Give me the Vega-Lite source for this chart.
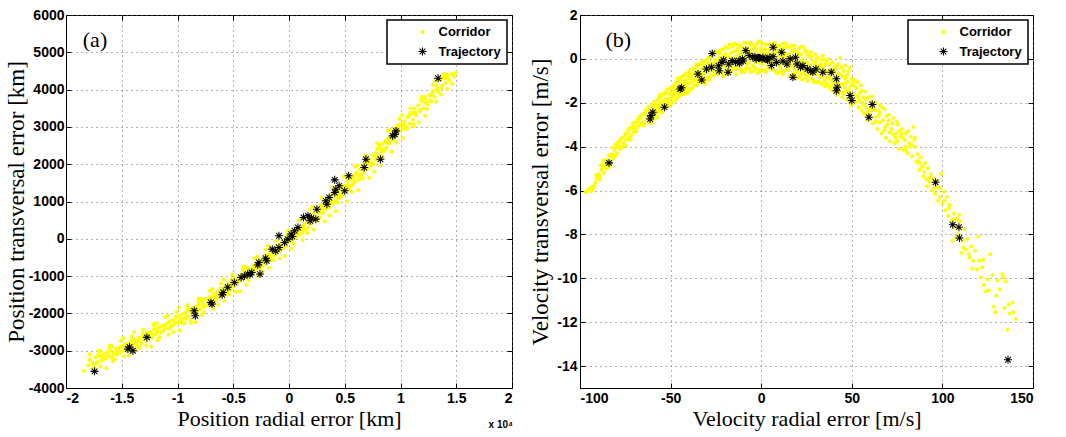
{
"$schema": "https://vega.github.io/schema/vega-lite/v6.json",
"usermeta": {"embedOptions": {"actions": false}},
"background": "white",
"padding": {"left": 4, "top": 7, "right": 2, "bottom": 0},
"bounds": "flush",
"spacing": 68,
"datasets": {
"ac": [
{"x":-1.840,"y":-3540},{"x":-1.800,"y":-3400},{"x":-1.785,"y":-3230},{"x":-1.765,"y":-3330},{"x":-1.750,"y":-3420},
{"x":-1.735,"y":-3180},{"x":-1.720,"y":-3300},{"x":-1.705,"y":-3120},{"x":-1.690,"y":-3010},{"x":-1.680,"y":-3260},{"x":-1.660,"y":-3090},
{"x":-1.645,"y":-3210},{"x":-1.630,"y":-3040},{"x":-1.615,"y":-3130},{"x":-1.600,"y":-2990},{"x":-1.590,"y":-3180},{"x":-1.570,"y":-3060},{"x":-1.555,"y":-2950},
{"x":-1.545,"y":-3110},{"x":-1.530,"y":-2980},{"x":-1.515,"y":-3050},{"x":-1.500,"y":-2880},{"x":-1.490,"y":-3000},{"x":-1.475,"y":-2920},{"x":-1.460,"y":-2810},{"x":-1.450,"y":-2990},
{"x":-1.440,"y":-2870},{"x":-1.425,"y":-2780},{"x":-1.410,"y":-2940},{"x":-1.395,"y":-2830},{"x":-1.380,"y":-2700},{"x":-1.365,"y":-2860},{"x":-1.350,"y":-2740},
{"x":-1.340,"y":-2650},{"x":-1.325,"y":-2800},{"x":-1.310,"y":-2700},{"x":-1.295,"y":-2590},{"x":-1.280,"y":-2730},{"x":-1.265,"y":-2540},{"x":-1.250,"y":-2660},
{"x":-1.240,"y":-2500},{"x":-1.225,"y":-2640},{"x":-1.210,"y":-2430},{"x":-1.195,"y":-2560},{"x":-1.180,"y":-2480},{"x":-1.165,"y":-2370},{"x":-1.150,"y":-2520},
{"x":-1.140,"y":-2340},{"x":-1.125,"y":-2460},{"x":-1.110,"y":-2390},{"x":-1.095,"y":-2270},{"x":-1.080,"y":-2410},{"x":-1.065,"y":-2200},{"x":-1.050,"y":-2330},
{"x":-1.040,"y":-2180},{"x":-1.025,"y":-2300},{"x":-1.010,"y":-2110},{"x":-0.995,"y":-2240},{"x":-0.980,"y":-2060},{"x":-0.965,"y":-2190},{"x":-0.950,"y":-2000},
{"x":-0.940,"y":-2130},{"x":-0.925,"y":-1980},{"x":-0.910,"y":-2080},{"x":-0.895,"y":-1930},{"x":-0.880,"y":-2180},{"x":-0.865,"y":-1870},{"x":-0.850,"y":-2020},
{"x":-0.840,"y":-1820},{"x":-0.825,"y":-1950},{"x":-0.810,"y":-1760},{"x":-0.795,"y":-1880},{"x":-0.780,"y":-1690},{"x":-0.765,"y":-1830},{"x":-0.750,"y":-1620},
{"x":-0.740,"y":-1760},{"x":-0.725,"y":-1650},{"x":-0.710,"y":-1560},{"x":-0.695,"y":-1720},{"x":-0.680,"y":-1480},{"x":-0.665,"y":-1610},{"x":-0.650,"y":-1430},
{"x":-0.640,"y":-1560},{"x":-0.625,"y":-1400},{"x":-0.610,"y":-1520},{"x":-0.595,"y":-1340},{"x":-0.580,"y":-1470},{"x":-0.565,"y":-1250},{"x":-0.550,"y":-1390},
{"x":-0.540,"y":-1220},{"x":-0.525,"y":-1360},{"x":-0.510,"y":-1150},{"x":-0.495,"y":-1280},{"x":-0.480,"y":-1060},{"x":-0.465,"y":-1200},{"x":-0.450,"y":-1000},
{"x":-0.440,"y":-1130},{"x":-0.425,"y":-960},{"x":-0.410,"y":-1070},{"x":-0.395,"y":-880},{"x":-0.380,"y":-1010},{"x":-0.365,"y":-800},{"x":-0.350,"y":-950},
{"x":-0.340,"y":-840},{"x":-0.325,"y":-730},{"x":-0.310,"y":-880},{"x":-0.295,"y":-660},{"x":-0.280,"y":-790},{"x":-0.265,"y":-590},{"x":-0.250,"y":-720},
{"x":-0.240,"y":-610},{"x":-0.225,"y":-700},{"x":-0.210,"y":-500},{"x":-0.195,"y":-620},{"x":-0.180,"y":-420},{"x":-0.165,"y":-550},{"x":-0.150,"y":-340},
{"x":-0.140,"y":-450},{"x":-0.125,"y":-290},{"x":-0.110,"y":-380},{"x":-0.095,"y":-200},{"x":-0.080,"y":-320},{"x":-0.065,"y":-120},{"x":-0.050,"y":-250},
{"x":-0.040,"y":-60},{"x":-0.025,"y":-190},{"x":-0.010,"y":20},{"x":0.005,"y":-80},{"x":0.020,"y":130},{"x":0.035,"y":-10},{"x":0.050,"y":170},
{"x":0.060,"y":40},{"x":0.075,"y":200},{"x":0.090,"y":110},{"x":0.105,"y":300},{"x":0.120,"y":160},{"x":0.135,"y":380},{"x":0.150,"y":250},
{"x":0.160,"y":450},{"x":0.175,"y":300},{"x":0.190,"y":560},{"x":0.205,"y":420},{"x":0.220,"y":680},{"x":0.235,"y":500},{"x":0.250,"y":560},
{"x":0.260,"y":720},{"x":0.275,"y":580},{"x":0.290,"y":860},{"x":0.305,"y":700},{"x":0.320,"y":960},{"x":0.335,"y":800},{"x":0.350,"y":1020},
{"x":0.360,"y":840},{"x":0.375,"y":1080},{"x":0.390,"y":940},{"x":0.405,"y":1200},{"x":0.420,"y":1010},{"x":0.435,"y":1280},{"x":0.450,"y":1090},
{"x":0.460,"y":1330},{"x":0.475,"y":1150},{"x":0.490,"y":1430},{"x":0.505,"y":1260},{"x":0.520,"y":1550},{"x":0.535,"y":1370},{"x":0.550,"y":1600},
{"x":0.560,"y":1420},{"x":0.575,"y":1650},{"x":0.590,"y":1520},{"x":0.605,"y":1780},{"x":0.620,"y":1590},{"x":0.635,"y":1860},{"x":0.650,"y":1700},
{"x":0.660,"y":1950},{"x":0.675,"y":1780},{"x":0.690,"y":2050},{"x":0.705,"y":1870},{"x":0.720,"y":2140},{"x":0.735,"y":1960},{"x":0.750,"y":2230},
{"x":0.760,"y":2010},{"x":0.775,"y":2300},{"x":0.790,"y":2150},{"x":0.805,"y":2420},{"x":0.820,"y":2250},{"x":0.835,"y":2550},{"x":0.850,"y":2350},
{"x":0.860,"y":2620},{"x":0.875,"y":2440},{"x":0.890,"y":2700},{"x":0.905,"y":2560},{"x":0.920,"y":2840},{"x":0.935,"y":2660},{"x":0.950,"y":2950},
{"x":0.960,"y":2750},{"x":0.975,"y":3040},{"x":0.990,"y":2880},{"x":1.005,"y":3080},{"x":1.020,"y":2960},{"x":1.035,"y":3150},{"x":1.050,"y":3010},
{"x":1.065,"y":3260},{"x":1.080,"y":3090},{"x":1.095,"y":3380},{"x":1.110,"y":3200},{"x":1.125,"y":3490},{"x":1.140,"y":3310},
{"x":1.160,"y":3580},{"x":1.175,"y":3420},{"x":1.190,"y":3690},{"x":1.205,"y":3500},{"x":1.220,"y":3770},{"x":1.240,"y":3610},
{"x":1.260,"y":3850},{"x":1.275,"y":3680},{"x":1.290,"y":3970},{"x":1.305,"y":3800},{"x":1.320,"y":4110},{"x":1.340,"y":3960},
{"x":1.355,"y":4250},{"x":1.370,"y":4050},{"x":1.385,"y":4360},{"x":1.400,"y":4180},{"x":1.420,"y":4400},{"x":1.440,"y":4250},
{"x":1.460,"y":4420},{"x":1.480,"y":4350},{"x":1.500,"y":4460},
{"x":-1.19,"y":-2420},{"x":-1.06,"y":-2350},{"x":-0.97,"y":-2150},{"x":-0.92,"y":-2030},{"x":-0.87,"y":-1990},{"x":-0.83,"y":-1900},{"x":-0.77,"y":-1780},{"x":-0.72,"y":-1700},{"x":-0.67,"y":-1520},{"x":-0.62,"y":-1460},{"x":-0.57,"y":-1390},{"x":-0.52,"y":-1240},{"x":-0.47,"y":-1130},{"x":-0.42,"y":-1030},{"x":-0.37,"y":-920},{"x":-0.32,"y":-790},{"x":-0.27,"y":-700},{"x":-0.22,"y":-560},{"x":-0.17,"y":-470},{"x":-0.12,"y":-330},{"x":-0.07,"y":-200},{"x":-0.02,"y":-90},{"x":0.03,"y":60},{"x":0.08,"y":170},{"x":0.13,"y":290},{"x":0.18,"y":420},{"x":0.23,"y":570},{"x":0.28,"y":700},{"x":0.33,"y":870},{"x":0.38,"y":1000},{"x":0.43,"y":1130},{"x":0.48,"y":1240},{"x":0.53,"y":1450},{"x":0.58,"y":1580},{"x":0.63,"y":1730},{"x":0.68,"y":1880},{"x":0.73,"y":2050},{"x":0.78,"y":2200},{"x":0.83,"y":2400},{"x":0.88,"y":2560},{"x":0.93,"y":2760},{"x":0.98,"y":2950},{"x":1.03,"y":3060},{"x":1.13,"y":3380},{"x":1.23,"y":3660},{"x":1.33,"y":4030},{"x":0.10,"y":250},{"x":0.30,"y":790},{"x":0.45,"y":1200},{"x":-0.60,"y":-1420},{"x":-0.35,"y":-860},{"x":1.115,"y":3071},
{"x":-1.79,"y":-3250},{"x":-1.71,"y":-3000},{"x":-1.69,"y":-3420},{"x":-1.61,"y":-2860},{"x":-1.58,"y":-3280},{"x":-1.51,"y":-2730},{"x":-1.48,"y":-3150},{"x":-1.41,"y":-2620},{"x":-1.38,"y":-3000},{"x":-1.31,"y":-2440},{"x":-1.28,"y":-2870},{"x":-1.21,"y":-2270},{"x":-1.18,"y":-2720},{"x":-1.11,"y":-2100},{"x":-1.08,"y":-2570},{"x":-1.01,"y":-1960},{"x":-0.98,"y":-2450},{"x":-0.91,"y":-1780},{"x":-0.88,"y":-2260},{"x":-0.81,"y":-1600},{"x":-0.78,"y":-2050},{"x":-0.71,"y":-1390},{"x":-0.68,"y":-1880},{"x":-0.61,"y":-1200},{"x":-0.58,"y":-1660},{"x":-0.51,"y":-960},{"x":-0.48,"y":-1420},{"x":-0.41,"y":-750},{"x":-0.38,"y":-1230},{"x":-0.31,"y":-520},{"x":-0.28,"y":-1000},{"x":-0.21,"y":-290},{"x":-0.18,"y":-780},{"x":-0.11,"y":-40},{"x":-0.08,"y":-530},{"x":-0.01,"y":220},{"x":0.02,"y":-270},{"x":0.09,"y":500},{"x":0.12,"y":-30},{"x":0.19,"y":790},{"x":0.22,"y":240},{"x":0.29,"y":1100},{"x":0.32,"y":470},{"x":0.39,"y":1380},{"x":0.42,"y":740},{"x":0.49,"y":1680},{"x":0.52,"y":1000},{"x":0.59,"y":1930},{"x":0.62,"y":1300},{"x":0.69,"y":2230},{"x":0.72,"y":1640},{"x":0.79,"y":2560},{"x":0.82,"y":1980},{"x":0.89,"y":2900},{"x":0.92,"y":2340},{"x":0.99,"y":3220},{"x":1.02,"y":2700},{"x":1.09,"y":3500},{"x":1.12,"y":3020},{"x":1.19,"y":3800},{"x":1.22,"y":3300},{"x":1.29,"y":4120},{"x":1.32,"y":3680},{"x":1.39,"y":4420},{"x":1.42,"y":4020},
{"x":-1.725,"y":-3350},{"x":-1.625,"y":-3150},{"x":-1.525,"y":-2920},{"x":-1.425,"y":-2950},{"x":-1.325,"y":-2640},{"x":-1.225,"y":-2560},{"x":-1.125,"y":-2320},{"x":-1.025,"y":-2250},{"x":-0.925,"y":-2150},{"x":-0.825,"y":-1830},{"x":-0.725,"y":-1770},{"x":-0.625,"y":-1440},{"x":-0.525,"y":-1330},{"x":-0.425,"y":-970},{"x":-0.325,"y":-900},{"x":-0.225,"y":-520},{"x":-0.125,"y":-430},{"x":-0.025,"y":30},{"x":0.075,"y":130},{"x":0.175,"y":510},{"x":0.275,"y":700},{"x":0.375,"y":960},{"x":0.475,"y":1350},{"x":0.575,"y":1480},{"x":0.675,"y":1950},{"x":0.775,"y":2120},{"x":0.875,"y":2560},{"x":0.975,"y":2850},{"x":1.075,"y":3300},{"x":1.175,"y":3450},{"x":1.275,"y":3850},{"x":1.375,"y":4100},{"x":1.475,"y":4400},
{"x":-1.675,"y":-3150},{"x":-1.575,"y":-3100},{"x":-1.475,"y":-2830},{"x":-1.375,"y":-2800},{"x":-1.275,"y":-2520},{"x":-1.175,"y":-2500},{"x":-1.075,"y":-2240},{"x":-0.975,"y":-2180},{"x":-0.875,"y":-1900},{"x":-0.775,"y":-1770},{"x":-0.675,"y":-1560},{"x":-0.575,"y":-1440},{"x":-0.475,"y":-1100},{"x":-0.375,"y":-950},{"x":-0.275,"y":-700},{"x":-0.175,"y":-460},{"x":-0.075,"y":-250},{"x":0.025,"y":-20},{"x":0.125,"y":320},{"x":0.225,"y":540},{"x":0.325,"y":900},{"x":0.425,"y":1140},{"x":0.525,"y":1420},{"x":0.625,"y":1700},{"x":0.725,"y":2020},{"x":0.825,"y":2340},{"x":0.925,"y":2700},{"x":1.025,"y":3000},{"x":1.125,"y":3350},{"x":1.225,"y":3650},{"x":1.325,"y":4000},{"x":1.425,"y":4300},
{"x":-1.7875,"y":-3095},{"x":-1.7375,"y":-3505},{"x":-1.6875,"y":-3140},{"x":-1.6375,"y":-3473},{"x":-1.5875,"y":-2873},{"x":-1.5375,"y":-3070},{"x":-1.4875,"y":-2658},{"x":-1.4375,"y":-3128},{"x":-1.3875,"y":-2498},{"x":-1.3375,"y":-2920},{"x":-1.2875,"y":-2568},{"x":-1.2375,"y":-2888},{"x":-1.1875,"y":-2273},{"x":-1.1375,"y":-2470},{"x":-1.0875,"y":-2053},{"x":-1.0375,"y":-2500},{"x":-0.9875,"y":-1848},{"x":-0.9375,"y":-2268},{"x":-0.8875,"y":-1910},{"x":-0.8375,"y":-2238},{"x":-0.7875,"y":-1615},{"x":-0.7375,"y":-1785},{"x":-0.6875,"y":-1345},{"x":-0.6375,"y":-1765},{"x":-0.5875,"y":-1093},{"x":-0.5375,"y":-1490},{"x":-0.4875,"y":-1103},{"x":-0.4375,"y":-1403},{"x":-0.3875,"y":-763},{"x":-0.3375,"y":-923},{"x":-0.2875,"y":-473},{"x":-0.2375,"y":-880},{"x":-0.1875,"y":-188},{"x":-0.1375,"y":-570},{"x":-0.0875,"y":-178},{"x":-0.0375,"y":-458},{"x":0.0125,"y":195},{"x":0.0625,"y":63},{"x":0.1125,"y":535},{"x":0.1625,"y":155},{"x":0.2125,"y":865},{"x":0.2625,"y":495},{"x":0.3125,"y":903},{"x":0.3625,"y":625},{"x":0.4125,"y":1295},{"x":0.4625,"y":1165},{"x":0.5125,"y":1645},{"x":0.5625,"y":1263},{"x":0.6125,"y":1970},{"x":0.6625,"y":1620},{"x":0.7125,"y":2050},{"x":0.7625,"y":1803},{"x":0.8125,"y":2503},{"x":0.8625,"y":2405},{"x":0.9125,"y":2925},{"x":0.9625,"y":2583},{"x":1.0125,"y":3318},{"x":1.0625,"y":2958},{"x":1.1125,"y":3378},{"x":1.1625,"y":3118},{"x":1.2125,"y":3803},{"x":1.2625,"y":3705},{"x":1.3125,"y":4225},{"x":1.3625,"y":3870},{"x":1.4125,"y":4323},{"x":1.4625,"y":4153},
{"x":-1.7625,"y":-3495},{"x":-1.7125,"y":-3115},{"x":-1.6625,"y":-3218},{"x":-1.6125,"y":-2918},{"x":-1.5625,"y":-3238},{"x":-1.5125,"y":-2910},{"x":-1.4625,"y":-3003},{"x":-1.4125,"y":-2723},{"x":-1.3625,"y":-2903},{"x":-1.3125,"y":-2540},{"x":-1.2625,"y":-2643},{"x":-1.2125,"y":-2323},{"x":-1.1625,"y":-2638},{"x":-1.1125,"y":-2310},{"x":-1.0625,"y":-2388},{"x":-1.0125,"y":-2080},{"x":-0.9625,"y":-2253},{"x":-0.9125,"y":-1883},{"x":-0.8625,"y":-1990},{"x":-0.8125,"y":-1673},{"x":-0.7625,"y":-1965},{"x":-0.7125,"y":-1615},{"x":-0.6625,"y":-1665},{"x":-0.6125,"y":-1335},{"x":-0.5625,"y":-1488},{"x":-0.5125,"y":-1090},{"x":-0.4625,"y":-1168},{"x":-0.4125,"y":-828},{"x":-0.3625,"y":-1108},{"x":-0.3125,"y":-748},{"x":-0.2625,"y":-788},{"x":-0.2125,"y":-440},{"x":-0.1625,"y":-573},{"x":-0.1125,"y":-170},{"x":-0.0625,"y":-233},{"x":-0.0125,"y":117},{"x":0.0375,"y":-135},{"x":0.0875,"y":248},{"x":0.1375,"y":235},{"x":0.1875,"y":605},{"x":0.2375,"y":485},{"x":0.2875,"y":905},{"x":0.3375,"y":848},{"x":0.3875,"y":1215},{"x":0.4375,"y":965},{"x":0.4875,"y":1355},{"x":0.5375,"y":1345},{"x":0.5875,"y":1708},{"x":0.6375,"y":1600},{"x":0.6875,"y":2040},{"x":0.7375,"y":2010},{"x":0.7875,"y":2408},{"x":0.8375,"y":2188},{"x":0.8875,"y":2615},{"x":0.9375,"y":2645},{"x":0.9875,"y":3048},{"x":1.0375,"y":2943},{"x":1.0875,"y":3373},{"x":1.1375,"y":3333},{"x":1.1875,"y":3713},{"x":1.2375,"y":3488},{"x":1.2875,"y":3915},{"x":1.3375,"y":3945},{"x":1.3875,"y":4310},{"x":1.4375,"y":4238}
],
"at": [
{"x":-1.744,"y":-3554},{"x":-1.445,"y":-2955},{"x":-1.400,"y":-3000},{"x":-1.430,"y":-2900},{"x":-1.275,"y":-2643},{"x":-0.850,"y":-1929},{"x":-0.840,"y":-2063},{"x":-0.700,"y":-1705},{"x":-0.690,"y":-1750},{"x":-0.590,"y":-1438},{"x":-0.600,"y":-1500},{"x":-0.550,"y":-1300},{"x":-0.490,"y":-1170},{"x":-0.430,"y":-1036},{"x":-0.400,"y":-1000},{"x":-0.370,"y":-946},{"x":-0.335,"y":-902},{"x":-0.350,"y":-960},{"x":-0.260,"y":-946},{"x":-0.270,"y":-634},{"x":-0.280,"y":-700},{"x":-0.200,"y":-590},{"x":-0.210,"y":-520},{"x":-0.150,"y":-277},{"x":-0.120,"y":-330},{"x":-0.090,"y":-232},{"x":-0.090,"y":80},{"x":-0.040,"y":-98},{"x":-0.010,"y":-9},{"x":0.020,"y":125},{"x":0.050,"y":214},{"x":0.080,"y":304},{"x":0.030,"y":60},{"x":0.130,"y":571},{"x":0.170,"y":616},{"x":0.190,"y":482},{"x":0.240,"y":527},{"x":0.200,"y":560},{"x":0.250,"y":795},{"x":0.330,"y":1018},{"x":0.340,"y":929},{"x":0.360,"y":1107},{"x":0.410,"y":1241},{"x":0.420,"y":1330},{"x":0.410,"y":1580},{"x":0.450,"y":1420},{"x":0.500,"y":1286},{"x":0.535,"y":1688},{"x":0.675,"y":1911},{"x":0.690,"y":2134},{"x":0.820,"y":2134},{"x":0.930,"y":2759},{"x":0.960,"y":2893},{"x":0.950,"y":2800},{"x":1.337,"y":4304}
],
"bc": [
{"x":-97.0,"y":-6.08},{"x":-93.8,"y":-6.03},{"x":-92.5,"y":-5.80},{"x":-91.5,"y":-5.65},{"x":-90.6,"y":-5.42},{"x":-89.8,"y":-5.25},{"x":-89.0,"y":-5.50},{"x":-88.2,"y":-5.05},{"x":-87.5,"y":-4.90},{"x":-86.8,"y":-5.20},{"x":-86.0,"y":-4.78},{"x":-85.3,"y":-4.60},{"x":-84.7,"y":-4.95},{"x":-84.0,"y":-4.40},{"x":-83.2,"y":-4.70},{"x":-82.5,"y":-4.35},{"x":-81.8,"y":-4.55},{"x":-81.0,"y":-4.15},{"x":-80.3,"y":-3.90},{"x":-79.6,"y":-4.30},{"x":-78.9,"y":-4.05},{"x":-78.2,"y":-3.75},{"x":-77.5,"y":-4.10},{"x":-76.8,"y":-3.60},{"x":-76.0,"y":-3.85},{"x":-75.3,"y":-3.50},{"x":-74.6,"y":-3.95},{"x":-73.9,"y":-3.40},{"x":-73.2,"y":-3.65},{"x":-72.5,"y":-3.15},{"x":-71.8,"y":-3.50},{"x":-71.0,"y":-3.05},{"x":-70.3,"y":-3.35},{"x":-69.6,"y":-2.90},{"x":-68.9,"y":-3.20},{"x":-68.2,"y":-2.75},{"x":-67.5,"y":-3.05},{"x":-66.8,"y":-2.60},{"x":-66.0,"y":-2.95},{"x":-65.3,"y":-2.50},{"x":-64.6,"y":-2.85},{"x":-63.9,"y":-2.35},{"x":-63.2,"y":-2.70},{"x":-62.5,"y":-2.20},{"x":-61.8,"y":-2.90},{"x":-61.0,"y":-2.45},{"x":-60.3,"y":-2.10},
{"x":-59.6,"y":-2.75},{"x":-59.0,"y":-1.95},{"x":-58.4,"y":-2.50},{"x":-57.8,"y":-2.20},{"x":-57.2,"y":-2.65},{"x":-56.6,"y":-1.80},{"x":-56.0,"y":-2.30},{"x":-55.4,"y":-2.00},{"x":-54.8,"y":-2.45},{"x":-54.2,"y":-1.65},{"x":-53.6,"y":-2.10},{"x":-53.0,"y":-1.85},{"x":-52.4,"y":-2.20},{"x":-51.8,"y":-1.40},{"x":-51.2,"y":-1.95},{"x":-50.6,"y":-1.60},{"x":-50.0,"y":-2.05},{"x":-49.4,"y":-1.30},{"x":-48.8,"y":-1.75},{"x":-48.2,"y":-1.50},{"x":-47.6,"y":-1.90},{"x":-47.0,"y":-1.10},{"x":-46.4,"y":-1.55},{"x":-45.8,"y":-1.30},{"x":-45.2,"y":-1.70},{"x":-44.6,"y":-0.90},{"x":-44.0,"y":-1.45},{"x":-43.4,"y":-1.10},{"x":-42.8,"y":-1.60},{"x":-42.2,"y":-0.75},{"x":-41.6,"y":-1.25},{"x":-41.0,"y":-0.95},{"x":-40.4,"y":-1.45},
{"x":-39.8,"y":-0.55},{"x":-39.2,"y":-1.10},{"x":-38.6,"y":-0.80},{"x":-38.0,"y":-1.35},{"x":-37.4,"y":-0.45},{"x":-36.8,"y":-0.95},{"x":-36.2,"y":-0.65},{"x":-35.6,"y":-1.20},{"x":-35.0,"y":-0.30},{"x":-34.4,"y":-0.85},{"x":-33.8,"y":-0.55},{"x":-33.2,"y":-1.05},{"x":-32.6,"y":-0.15},{"x":-32.0,"y":-0.70},{"x":-31.4,"y":-0.40},{"x":-30.8,"y":-0.95},{"x":-30.2,"y":-0.05},{"x":-29.6,"y":-0.60},{"x":-29.0,"y":-0.30},{"x":-28.4,"y":-0.85},{"x":-27.8,"y":0.10},{"x":-27.2,"y":-0.45},{"x":-26.6,"y":-0.20},{"x":-26.0,"y":-0.75},{"x":-25.4,"y":0.30},{"x":-24.8,"y":-0.35},{"x":-24.2,"y":-0.05},{"x":-23.6,"y":-0.70},{"x":-23.0,"y":0.35},{"x":-22.4,"y":-0.25},{"x":-21.8,"y":0.05},{"x":-21.2,"y":-0.60},{"x":-20.6,"y":0.45},{"x":-20.0,"y":-0.40},
{"x":-19.4,"y":0.15},{"x":-18.8,"y":-0.65},{"x":-18.2,"y":0.50},{"x":-17.6,"y":-0.20},{"x":-17.0,"y":0.25},{"x":-16.4,"y":-0.55},{"x":-15.8,"y":0.60},{"x":-15.2,"y":-0.10},{"x":-14.6,"y":0.35},{"x":-14.0,"y":-0.70},{"x":-13.4,"y":0.65},{"x":-12.8,"y":-0.30},{"x":-12.2,"y":0.20},{"x":-11.6,"y":-0.50},{"x":-11.0,"y":0.55},{"x":-10.4,"y":0.00},{"x":-9.8,"y":0.40},{"x":-9.2,"y":-0.60},{"x":-8.6,"y":0.70},{"x":-8.0,"y":-0.25},{"x":-7.4,"y":0.30},{"x":-6.8,"y":-0.45},{"x":-6.2,"y":0.75},{"x":-5.6,"y":0.05},{"x":-5.0,"y":0.45},{"x":-4.4,"y":-0.55},{"x":-3.8,"y":0.60},{"x":-3.2,"y":-0.15},{"x":-2.6,"y":0.35},{"x":-2.0,"y":-0.65},{"x":-1.4,"y":0.80},{"x":-0.8,"y":-0.20},{"x":-0.2,"y":0.50},
{"x":0.4,"y":-0.50},{"x":1.0,"y":0.70},{"x":1.6,"y":-0.10},{"x":2.2,"y":0.45},{"x":2.8,"y":-0.60},{"x":3.4,"y":0.25},{"x":4.0,"y":-0.30},{"x":4.6,"y":0.65},{"x":5.2,"y":-0.45},{"x":5.8,"y":0.15},{"x":6.4,"y":0.55},{"x":7.0,"y":-0.20},{"x":7.6,"y":0.75},{"x":8.2,"y":-0.55},{"x":8.8,"y":0.30},{"x":9.4,"y":-0.05},{"x":10.0,"y":0.60},{"x":10.6,"y":-0.40},{"x":11.2,"y":0.20},{"x":11.8,"y":-0.70},{"x":12.4,"y":0.50},{"x":13.0,"y":-0.15},{"x":13.6,"y":0.70},{"x":14.2,"y":-0.50},{"x":14.8,"y":0.10},{"x":15.4,"y":-0.80},{"x":16.0,"y":0.55},{"x":16.6,"y":-0.30},{"x":17.2,"y":0.35},{"x":17.8,"y":-0.65},{"x":18.4,"y":0.60},{"x":19.0,"y":-0.10},{"x":19.6,"y":0.30},
{"x":20.2,"y":-0.85},{"x":20.8,"y":0.45},{"x":21.4,"y":-0.40},{"x":22.0,"y":0.20},{"x":22.6,"y":-0.95},{"x":23.2,"y":0.55},{"x":23.8,"y":-0.20},{"x":24.4,"y":-0.70},{"x":25.0,"y":0.35},{"x":25.6,"y":-1.00},{"x":26.2,"y":0.10},{"x":26.8,"y":-0.55},{"x":27.4,"y":0.30},{"x":28.0,"y":-0.90},{"x":28.6,"y":-0.10},{"x":29.2,"y":-0.65},{"x":29.8,"y":0.20},{"x":30.4,"y":-1.05},{"x":31.0,"y":-0.30},{"x":31.6,"y":0.05},{"x":32.2,"y":-0.80},{"x":32.8,"y":-0.25},{"x":33.4,"y":-1.15},{"x":34.0,"y":0.15},{"x":34.6,"y":-0.55},{"x":35.2,"y":-1.25},{"x":35.8,"y":-0.20},{"x":36.4,"y":-0.85},{"x":37.0,"y":0.00},{"x":37.6,"y":-1.30},{"x":38.2,"y":-0.50},{"x":38.8,"y":-1.00},{"x":39.4,"y":-0.15},
{"x":40.0,"y":-1.40},{"x":40.6,"y":-0.35},{"x":41.2,"y":-0.90},{"x":41.8,"y":-1.65},{"x":42.4,"y":-0.25},{"x":43.0,"y":-1.20},{"x":43.6,"y":0.05},{"x":44.2,"y":-0.75},{"x":44.8,"y":-1.75},{"x":45.4,"y":-0.55},{"x":46.0,"y":-1.30},{"x":46.6,"y":-0.90},{"x":47.2,"y":-1.85},{"x":47.8,"y":-0.70},{"x":48.4,"y":-1.45},{"x":49.0,"y":-0.40},{"x":49.6,"y":-2.10},{"x":50.2,"y":-1.15},{"x":50.8,"y":-1.60},{"x":51.4,"y":-0.95},{"x":52.0,"y":-2.00},{"x":52.6,"y":-1.35},{"x":53.2,"y":-1.05},{"x":53.8,"y":-2.20},{"x":54.4,"y":-1.55},{"x":55.0,"y":-1.20},{"x":55.6,"y":-2.35},{"x":56.2,"y":-1.75},{"x":56.8,"y":-2.50},{"x":57.4,"y":-1.50},{"x":58.0,"y":-2.20},{"x":58.6,"y":-2.80},{"x":59.2,"y":-1.75},
{"x":60.0,"y":-2.55},{"x":60.8,"y":-1.95},{"x":61.6,"y":-2.95},{"x":62.4,"y":-2.30},{"x":63.2,"y":-2.00},{"x":64.0,"y":-3.20},{"x":64.8,"y":-2.60},{"x":65.6,"y":-2.10},{"x":66.4,"y":-3.40},{"x":67.2,"y":-2.80},{"x":68.0,"y":-2.30},{"x":68.8,"y":-3.60},{"x":69.6,"y":-3.00},{"x":70.4,"y":-2.55},{"x":71.2,"y":-3.75},{"x":72.0,"y":-3.20},{"x":72.8,"y":-2.70},{"x":73.6,"y":-3.85},{"x":74.4,"y":-3.40},{"x":75.2,"y":-3.00},{"x":76.0,"y":-4.10},{"x":76.8,"y":-3.55},{"x":77.6,"y":-3.20},{"x":78.4,"y":-4.15},{"x":79.2,"y":-3.70},{"x":80.0,"y":-3.40},{"x":80.8,"y":-4.30},{"x":81.6,"y":-3.85},{"x":82.4,"y":-3.55},{"x":83.2,"y":-4.45},{"x":84.0,"y":-3.10},{"x":84.8,"y":-4.00},
{"x":85.6,"y":-4.70},{"x":86.4,"y":-4.35},{"x":87.2,"y":-5.05},{"x":88.0,"y":-4.50},{"x":88.8,"y":-4.90},{"x":89.6,"y":-5.35},{"x":90.4,"y":-4.75},{"x":91.2,"y":-5.50},{"x":92.0,"y":-5.00},{"x":92.8,"y":-5.60},{"x":93.6,"y":-5.25},{"x":94.4,"y":-6.00},{"x":95.2,"y":-5.45},{"x":96.0,"y":-6.15},{"x":96.8,"y":-5.80},{"x":97.6,"y":-6.45},{"x":98.4,"y":-5.90},{"x":99.2,"y":-5.25},{"x":100.0,"y":-6.60},{"x":100.8,"y":-6.05},{"x":101.6,"y":-6.90},{"x":102.4,"y":-6.30},{"x":103.2,"y":-7.15},{"x":104.0,"y":-6.65},{"x":104.8,"y":-7.40},{"x":105.6,"y":-8.30},{"x":106.4,"y":-7.05},{"x":107.2,"y":-7.70},{"x":108.0,"y":-7.30},{"x":108.8,"y":-8.00},{"x":109.6,"y":-7.40},{"x":110.4,"y":-8.85},{"x":111.2,"y":-8.30},{"x":112.0,"y":-7.75},{"x":113.0,"y":-8.70},{"x":114.0,"y":-8.20},{"x":115.0,"y":-9.05},{"x":116.0,"y":-8.55},{"x":117.0,"y":-9.20},{"x":118.0,"y":-8.75},{"x":119.2,"y":-9.60},{"x":120.4,"y":-9.20},{"x":121.2,"y":-9.95},{"x":122.0,"y":-9.50},{"x":123.0,"y":-10.30},{"x":124.0,"y":-10.60},{"x":125.0,"y":-10.05},{"x":126.4,"y":-8.90},{"x":127.6,"y":-9.85},{"x":128.4,"y":-11.30},{"x":129.2,"y":-11.55},{"x":130.4,"y":-10.10},{"x":131.6,"y":-10.50},{"x":133.0,"y":-9.80},{"x":134.2,"y":-11.35},{"x":135.0,"y":-10.15},{"x":136.0,"y":-12.35},{"x":137.2,"y":-11.60},{"x":138.7,"y":-11.10},{"x":140.6,"y":-11.85},
{"x":-95.5,"y":-5.95},{"x":-94.2,"y":-5.85},{"x":-91.0,"y":-5.30},{"x":-88.6,"y":-4.85},{"x":-87.0,"y":-4.62},{"x":-85.6,"y":-5.00},{"x":-83.7,"y":-4.90},{"x":-82.0,"y":-4.05},{"x":-80.7,"y":-4.45},{"x":-79.2,"y":-3.95},{"x":-77.9,"y":-3.70},{"x":-76.4,"y":-4.00},{"x":-75.0,"y":-3.70},{"x":-73.5,"y":-3.25},{"x":-72.1,"y":-3.70},{"x":-70.7,"y":-3.20},{"x":-69.2,"y":-3.10},{"x":-67.9,"y":-2.85},{"x":-66.4,"y":-2.70},{"x":-65.0,"y":-3.05},{"x":-63.5,"y":-2.55},{"x":-62.1,"y":-2.60},{"x":-60.7,"y":-2.75},
{"x":-59.3,"y":-2.35},{"x":-58.7,"y":-2.05},{"x":-58.1,"y":-2.70},{"x":-57.5,"y":-1.90},{"x":-56.9,"y":-2.40},{"x":-56.3,"y":-2.10},{"x":-55.7,"y":-1.75},{"x":-55.1,"y":-2.25},{"x":-54.5,"y":-1.95},{"x":-53.9,"y":-1.60},{"x":-53.3,"y":-2.30},{"x":-52.7,"y":-1.55},{"x":-52.1,"y":-1.80},{"x":-51.5,"y":-2.00},{"x":-50.9,"y":-1.35},{"x":-50.3,"y":-1.80},{"x":-49.7,"y":-1.55},{"x":-49.1,"y":-2.00},{"x":-48.5,"y":-1.20},{"x":-47.9,"y":-1.65},{"x":-47.3,"y":-1.35},{"x":-46.7,"y":-1.80},{"x":-46.1,"y":-1.00},{"x":-45.5,"y":-1.45},{"x":-44.9,"y":-1.15},{"x":-44.3,"y":-1.60},{"x":-43.7,"y":-0.80},{"x":-43.1,"y":-1.35},{"x":-42.5,"y":-1.00},{"x":-41.9,"y":-1.45},{"x":-41.3,"y":-0.65},{"x":-40.7,"y":-1.15},{"x":-40.1,"y":-0.85},{"x":-39.5,"y":-1.35},{"x":-38.9,"y":-0.50},{"x":-38.3,"y":-1.00},{"x":-37.7,"y":-0.70},{"x":-37.1,"y":-1.20},{"x":-36.5,"y":-0.40},{"x":-35.9,"y":-0.90},{"x":-35.3,"y":-0.60},{"x":-34.7,"y":-1.10},{"x":-34.1,"y":-0.25},{"x":-33.5,"y":-0.75},{"x":-32.9,"y":-0.45},{"x":-32.3,"y":-0.95},{"x":-31.7,"y":-0.10},{"x":-31.1,"y":-0.60},{"x":-30.5,"y":-0.30},{"x":-29.9,"y":-0.85},{"x":-29.3,"y":0.05},{"x":-28.7,"y":-0.50},{"x":-28.1,"y":-0.20},{"x":-27.5,"y":-0.75},{"x":-26.9,"y":0.20},{"x":-26.3,"y":-0.35},{"x":-25.7,"y":-0.05},{"x":-25.1,"y":-0.60},{"x":-24.5,"y":0.30},{"x":-23.9,"y":-0.30},{"x":-23.3,"y":0.05},{"x":-22.7,"y":-0.55},{"x":-22.1,"y":0.40},{"x":-21.5,"y":-0.20},{"x":-20.9,"y":0.15},{"x":-20.3,"y":-0.70},{"x":-19.7,"y":0.55},{"x":-19.1,"y":-0.30},{"x":-18.5,"y":0.10},{"x":-17.9,"y":-0.50},{"x":-17.3,"y":0.65},{"x":-16.7,"y":-0.05},{"x":-16.1,"y":0.30},{"x":-15.5,"y":-0.40},{"x":-14.9,"y":0.70},{"x":-14.3,"y":0.10},{"x":-13.7,"y":-0.45},{"x":-13.1,"y":0.40},{"x":-12.5,"y":-0.10},{"x":-11.9,"y":0.60},{"x":-11.3,"y":-0.25},{"x":-10.7,"y":0.30},{"x":-10.1,"y":-0.55},{"x":-9.5,"y":0.75},{"x":-8.9,"y":0.10},{"x":-8.3,"y":-0.40},{"x":-7.7,"y":0.50},{"x":-7.1,"y":-0.10},{"x":-6.5,"y":0.35},{"x":-5.9,"y":-0.60},{"x":-5.3,"y":0.70},{"x":-4.7,"y":0.20},{"x":-4.1,"y":-0.35},{"x":-3.5,"y":0.55},{"x":-2.9,"y":-0.45},{"x":-2.3,"y":0.70},{"x":-1.7,"y":0.10},{"x":-1.1,"y":-0.50},{"x":-0.5,"y":0.30},{"x":0.1,"y":0.75},{"x":0.7,"y":-0.25},{"x":1.3,"y":0.40},{"x":1.9,"y":-0.55},{"x":2.5,"y":0.65},{"x":3.1,"y":0.05},{"x":3.7,"y":-0.40},{"x":4.3,"y":0.40},{"x":4.9,"y":-0.15},{"x":5.5,"y":0.70},{"x":6.1,"y":-0.50},{"x":6.7,"y":0.25},{"x":7.3,"y":-0.05},{"x":7.9,"y":0.45},{"x":8.5,"y":-0.65},{"x":9.1,"y":0.60},{"x":9.7,"y":0.10},{"x":10.3,"y":-0.30},{"x":10.9,"y":0.45},{"x":11.5,"y":-0.15},{"x":12.1,"y":0.70},{"x":12.7,"y":-0.55},{"x":13.3,"y":0.25},{"x":13.9,"y":-0.05},{"x":14.5,"y":0.55},{"x":15.1,"y":-0.35},{"x":15.7,"y":0.20},{"x":16.3,"y":-0.75},{"x":16.9,"y":0.60},{"x":17.5,"y":-0.10},{"x":18.1,"y":0.40},{"x":18.7,"y":-0.45},{"x":19.3,"y":0.05},{"x":19.9,"y":-0.60},{"x":20.5,"y":0.25},{"x":21.1,"y":-0.20},{"x":21.7,"y":0.55},{"x":22.3,"y":-0.65},{"x":22.9,"y":0.00},{"x":23.5,"y":-0.45},{"x":24.1,"y":0.40},{"x":24.7,"y":-0.85},{"x":25.3,"y":-0.15},{"x":25.9,"y":0.20},{"x":26.5,"y":-0.75},{"x":27.1,"y":-0.30},{"x":27.7,"y":0.10},{"x":28.3,"y":-0.50},{"x":28.9,"y":-1.00},{"x":29.5,"y":-0.20},{"x":30.1,"y":-0.70},{"x":30.7,"y":0.05},{"x":31.3,"y":-0.55},{"x":31.9,"y":-1.05},{"x":32.5,"y":-0.40},{"x":33.1,"y":-0.05},{"x":33.7,"y":-0.85},{"x":34.3,"y":-0.35},{"x":34.9,"y":-1.00},{"x":35.5,"y":-0.55},{"x":36.1,"y":-0.10},{"x":36.7,"y":-1.15},{"x":37.3,"y":-0.60},{"x":37.9,"y":-0.25},{"x":38.5,"y":-1.25},{"x":39.1,"y":-0.70},{"x":39.7,"y":-1.10},{"x":40.3,"y":-0.60},{"x":40.9,"y":-1.30},{"x":41.5,"y":-0.40},{"x":42.1,"y":-1.05},{"x":42.7,"y":-0.65},{"x":43.3,"y":-1.50},{"x":43.9,"y":-0.40},{"x":44.5,"y":-1.15},{"x":45.1,"y":-0.80},{"x":45.7,"y":-1.60},{"x":46.3,"y":-0.30},{"x":46.9,"y":-1.45},{"x":47.5,"y":-1.05},{"x":48.1,"y":-0.55},{"x":48.7,"y":-1.80},{"x":49.3,"y":-1.25},{"x":49.9,"y":-0.90},
{"x":50.5,"y":-1.85},{"x":51.7,"y":-1.25},{"x":52.9,"y":-1.70},{"x":54.1,"y":-1.90},{"x":55.3,"y":-1.45},{"x":56.5,"y":-2.10},{"x":57.7,"y":-1.85},{"x":58.9,"y":-2.40},{"x":60.4,"y":-2.25},{"x":61.2,"y":-1.70},{"x":62.8,"y":-2.65},{"x":64.4,"y":-2.35},{"x":65.2,"y":-2.90},{"x":66.8,"y":-2.20},{"x":68.4,"y":-3.10},{"x":69.2,"y":-2.60},{"x":70.8,"y":-3.35},{"x":72.4,"y":-2.95},{"x":74.0,"y":-3.60},{"x":74.8,"y":-2.85},{"x":76.4,"y":-3.30},{"x":78.0,"y":-3.60},{"x":79.6,"y":-4.00},{"x":81.2,"y":-3.30},{"x":82.8,"y":-3.90},{"x":84.4,"y":-3.70},
{"x":87.6,"y":-4.75},{"x":90.0,"y":-5.15},{"x":91.6,"y":-5.80},{"x":93.2,"y":-5.40},{"x":95.6,"y":-5.90},{"x":97.2,"y":-5.55},{"x":98.8,"y":-6.30},{"x":101.2,"y":-6.45},{"x":103.6,"y":-6.80},{"x":106.0,"y":-7.30},{"x":107.6,"y":-8.15},{"x":109.2,"y":-7.10},{"x":111.6,"y":-8.60},{"x":114.5,"y":-8.90},{"x":116.5,"y":-9.55},{"x":119.8,"y":-8.10},{"x":122.5,"y":-9.15},{"x":125.5,"y":-10.55},{"x":129.8,"y":-10.80},{"x":133.5,"y":-9.95},{"x":136.6,"y":-11.20},{"x":139.2,"y":-11.55},
{"x":-59.9,"y":-2.16},{"x":-58.9,"y":-2.72},{"x":-57.9,"y":-2.14},{"x":-56.9,"y":-2.31},{"x":-55.9,"y":-1.64},{"x":-54.9,"y":-2.27},{"x":-53.9,"y":-1.89},{"x":-52.9,"y":-1.52},{"x":-51.9,"y":-1.84},{"x":-50.9,"y":-2.14},{"x":-49.9,"y":-1.34},{"x":-48.9,"y":-1.99},{"x":-47.9,"y":-1.36},{"x":-46.9,"y":-1.57},{"x":-45.9,"y":-0.88},{"x":-44.9,"y":-1.59},{"x":-43.9,"y":-1.19},{"x":-42.9,"y":-0.77},{"x":-41.9,"y":-1.19},{"x":-40.9,"y":-1.58},{"x":-39.9,"y":-0.68},{"x":-38.9,"y":-1.41},{"x":-37.9,"y":-0.76},{"x":-36.9,"y":-1.01},{"x":-35.9,"y":-0.27},{"x":-34.9,"y":-1.06},{"x":-33.9,"y":-0.65},{"x":-32.9,"y":-0.24},{"x":-31.9,"y":-0.68},{"x":-30.9,"y":-1.12},{"x":-29.9,"y":-0.16},{"x":-28.9,"y":-0.95},{"x":-27.9,"y":-0.25},{"x":-26.9,"y":-0.54},{"x":-25.9,"y":0.25},{"x":-24.9,"y":-0.62},{"x":-23.9,"y":-0.20},{"x":-22.9,"y":0.25},{"x":-21.9,"y":-0.29},{"x":-20.9,"y":-0.79},{"x":-19.9,"y":0.22},{"x":-18.9,"y":-0.67},{"x":-17.9,"y":0.06},{"x":-16.9,"y":-0.27},{"x":-15.9,"y":0.56},{"x":-14.9,"y":-0.41},{"x":-13.9,"y":0.03},{"x":-12.9,"y":0.46},{"x":-11.9,"y":-0.09},{"x":-10.9,"y":-0.61},{"x":-9.9,"y":0.40},{"x":-8.9,"y":-0.51},{"x":-7.9,"y":0.21},{"x":-6.9,"y":-0.15},{"x":-5.9,"y":0.66},{"x":-4.9,"y":-0.32},{"x":-3.9,"y":0.10},{"x":-2.9,"y":0.52},{"x":-1.9,"y":-0.04},{"x":-0.9,"y":-0.57},{"x":0.1,"y":0.42},{"x":1.1,"y":-0.50},{"x":2.1,"y":0.21},{"x":3.1,"y":-0.15},{"x":4.1,"y":0.66},{"x":5.1,"y":-0.33},{"x":6.1,"y":0.08},{"x":7.1,"y":0.48},{"x":8.1,"y":-0.09},{"x":9.1,"y":-0.63},{"x":10.1,"y":0.34},{"x":11.1,"y":-0.59},{"x":12.1,"y":0.11},{"x":13.1,"y":-0.27},{"x":14.1,"y":0.57},{"x":15.1,"y":-0.49},{"x":16.1,"y":-0.05},{"x":17.1,"y":0.37},{"x":18.1,"y":-0.25},{"x":19.1,"y":-0.84},{"x":20.1,"y":0.19},{"x":21.1,"y":-0.82},{"x":22.1,"y":-0.09},{"x":23.1,"y":-0.49},{"x":24.1,"y":0.35},{"x":25.1,"y":-0.73},{"x":26.1,"y":-0.30},{"x":27.1,"y":0.12},{"x":28.1,"y":-0.49},{"x":29.1,"y":-1.06},{"x":30.1,"y":-0.11},{"x":31.1,"y":-1.06},{"x":32.1,"y":-0.40},{"x":33.1,"y":-0.79},{"x":34.1,"y":-0.02},{"x":35.1,"y":-1.04},{"x":36.1,"y":-0.65},{"x":37.1,"y":-0.24},{"x":38.1,"y":-0.88},{"x":39.1,"y":-1.44},{"x":40.1,"y":-0.47},{"x":41.1,"y":-1.50},{"x":42.1,"y":-0.79},{"x":43.1,"y":-1.24},{"x":44.1,"y":-0.37},{"x":45.1,"y":-1.54},{"x":46.1,"y":-1.13},{"x":47.1,"y":-0.77},{"x":48.1,"y":-1.40},{"x":49.1,"y":-1.97},
{"x":-92.9,"y":-5.95},{"x":-90.9,"y":-5.45},{"x":-88.9,"y":-5.35},{"x":-86.9,"y":-4.75},{"x":-84.9,"y":-4.85},{"x":-82.9,"y":-4.45},{"x":-80.9,"y":-4.40},{"x":-78.9,"y":-3.80},{"x":-76.9,"y":-4.00},{"x":-74.9,"y":-3.40},{"x":-72.9,"y":-3.60},{"x":-70.9,"y":-2.95},{"x":-68.9,"y":-3.30},{"x":-66.9,"y":-2.70},{"x":-64.9,"y":-2.95},{"x":-62.9,"y":-2.35},{"x":-60.9,"y":-2.95},
{"x":51.1,"y":-1.05},{"x":53.5,"y":-1.75},{"x":55.9,"y":-2.00},{"x":58.3,"y":-2.55},{"x":60.7,"y":-2.35},{"x":63.1,"y":-2.85},{"x":65.5,"y":-2.45},{"x":67.9,"y":-3.25},{"x":70.3,"y":-2.80},{"x":72.7,"y":-3.45},{"x":75.1,"y":-3.75},{"x":77.5,"y":-3.40},{"x":79.9,"y":-4.15},{"x":82.3,"y":-4.00},{"x":84.7,"y":-3.60},{"x":86.6,"y":-4.65},{"x":89.2,"y":-4.90}
],
"bt": [
{"x":-83.96,"y":-4.74},{"x":-61.3,"y":-2.74},{"x":-60.8,"y":-2.58},{"x":-59.8,"y":-2.43},{"x":-53.4,"y":-2.2},{"x":-44.7,"y":-1.37},{"x":-44.0,"y":-1.32},{"x":-34.9,"y":-0.69},{"x":-32.8,"y":-0.96},{"x":-30.2,"y":-0.46},{"x":-27.4,"y":-0.38},{"x":-27.0,"y":0.25},{"x":-23.6,"y":-0.31},{"x":-23.2,"y":-0.54},{"x":-21.7,"y":-0.16},{"x":-20.8,"y":-0.05},{"x":-18.3,"y":-0.61},{"x":-17.9,"y":-0.23},{"x":-16.0,"y":-0.08},{"x":-14.2,"y":-0.16},{"x":-12.3,"y":-0.08},{"x":-10.4,"y":0.0},{"x":-8.5,"y":0.38},{"x":-6.6,"y":0.15},{"x":-4.7,"y":0.07},{"x":-2.8,"y":0.0},{"x":-0.9,"y":0.04},{"x":1.0,"y":0.07},{"x":2.8,"y":0.0},{"x":4.7,"y":0.07},{"x":5.7,"y":-0.3},{"x":6.6,"y":0.53},{"x":6.6,"y":0.1},{"x":8.5,"y":-0.16},{"x":11.3,"y":0.3},{"x":14.2,"y":-0.23},{"x":16.0,"y":0.0},{"x":17.5,"y":-0.84},{"x":18.9,"y":0.07},{"x":19.8,"y":-0.23},{"x":21.7,"y":-0.38},{"x":25.5,"y":-0.46},{"x":27.4,"y":-0.54},{"x":30.2,"y":-0.46},{"x":34.0,"y":-0.61},{"x":38.7,"y":-0.61},{"x":41.5,"y":-0.91},{"x":41.9,"y":-1.29},{"x":41.5,"y":-1.45},{"x":49.1,"y":-1.67},{"x":50.0,"y":-1.9},{"x":59.4,"y":-2.66},{"x":61.3,"y":-2.08},{"x":96.2,"y":-5.62},{"x":105.7,"y":-7.56},{"x":109.1,"y":-7.67},{"x":109.4,"y":-8.16},{"x":136.2,"y":-13.71},{"x":-1.5,"y":0.05},{"x":0.5,"y":0.0},{"x":3.5,"y":-0.05},{"x":-3.5,"y":0.1},{"x":-12.0,"y":-0.2},{"x":-10.0,"y":-0.1},{"x":23.0,"y":-0.3},{"x":28.5,"y":-0.6},{"x":12.0,"y":-0.1}
]
},
"config": {
"view": {"stroke": "black", "strokeWidth": 1},
"axis": {"domainColor": "black", "domainWidth": 1, "grid": true, "gridColor": "#666666", "gridDash": [1, 4], "gridWidth": 1, "tickColor": "black", "tickSize": -5, "labelPadding": 7, "labelOverlap": false, "labelFont": "Liberation Sans", "labelFontWeight": "bold", "labelFontSize": 14, "labelColor": "black", "titleFont": "Liberation Serif", "titleFontWeight": "normal", "titleColor": "black"},
"axisY": {"minExtent": 0},
"axisX": {"minExtent": 0},
"legend": {"orient": "top-right", "offset": 5, "padding": 5.5, "strokeColor": "black", "strokeWidth": 1.5, "fillColor": "white", "cornerRadius": 0, "labelFont": "Liberation Sans", "labelFontWeight": "bold", "labelFontSize": 13, "labelColor": "black", "symbolStrokeWidth": 0, "symbolOffset": 0, "symbolSize": 64, "labelOffset": 33, "rowPadding": 5.5, "symbolOpacity": 1}
},
"resolve": {"scale": {"color": "independent", "shape": "independent"}, "legend": {"color": "independent", "shape": "independent"}},
"hconcat": [
{
"width": 446, "height": 373,
"resolve": {"axis": {"x": "independent", "y": "independent"}},
"layer": [
{"data": {"name": "ac"}, "mark": {"type": "point", "filled": true, "opacity": 1, "size": 16},
 "encoding": {
  "x": {"field": "x", "type": "quantitative", "scale": {"domain": [-2, 2], "nice": false}, "axis": {"values": [-2, -1.5, -1, -0.5, 0, 0.5, 1, 1.5, 2], "labelExpr": "'' + datum.value", "title": "Position radial error [km]", "titleFontSize": 22, "titlePadding": 3, "labelPadding": 8}},
  "y": {"field": "y", "type": "quantitative", "scale": {"domain": [-4000, 6000], "nice": false}, "axis": {"values": [-4000, -3000, -2000, -1000, 0, 1000, 2000, 3000, 4000, 5000, 6000], "labelExpr": "'' + datum.value", "title": "Position transversal error [km]", "titleFontSize": 23, "titlePadding": 0}},
  "color": {"datum": "Corridor", "scale": {"domain": ["Corridor", "Trajectory"], "range": ["#ffff00", "#000000"]}, "legend": {"title": null, "encode": {"symbols": {"update": {"size": {"signal": "datum.value === 'Corridor' ? 16 : 64"}, "x": {"value": 30}}}}}},
  "shape": {"datum": "Corridor", "scale": {"domain": ["Corridor", "Trajectory"], "range": ["circle", "M-1,-0.13L1,-0.13L1,0.13L-1,0.13Z M-0.13,-1L0.13,-1L0.13,1L-0.13,1Z M-0.8,-0.62L-0.62,-0.8L0.8,0.62L0.62,0.8Z M-0.8,0.62L0.62,-0.8L0.8,-0.62L-0.62,0.8Z"]}, "legend": {"title": null, "encode": {"symbols": {"update": {"size": {"signal": "datum.value === 'Corridor' ? 16 : 64"}, "x": {"value": 30}}}}}}
 }},
{"data": {"name": "at"}, "mark": {"type": "point", "filled": true, "opacity": 1, "size": 64},
 "encoding": {
  "x": {"field": "x", "type": "quantitative", "axis": null},
  "y": {"field": "y", "type": "quantitative", "axis": null},
  "color": {"datum": "Trajectory", "scale": {"domain": ["Corridor", "Trajectory"], "range": ["#ffff00", "#000000"]}},
  "shape": {"datum": "Trajectory", "scale": {"domain": ["Corridor", "Trajectory"], "range": ["circle", "M-1,-0.13L1,-0.13L1,0.13L-1,0.13Z M-0.13,-1L0.13,-1L0.13,1L-0.13,1Z M-0.8,-0.62L-0.62,-0.8L0.8,0.62L0.62,0.8Z M-0.8,0.62L0.62,-0.8L0.8,-0.62L-0.62,0.8Z"]}}
 }},
{"data": {"values": [{"x": -1.74, "y": 5330, "t": "(a)"}]}, "mark": {"type": "text", "font": "Liberation Serif", "fontSize": 22, "color": "black", "baseline": "middle"},
 "encoding": {
  "x": {"field": "x", "type": "quantitative", "axis": {"orient": "top", "values": [-2, -1.5, -1, -0.5, 0, 0.5, 1, 1.5, 2], "labels": false, "grid": false, "domain": false, "title": null, "minExtent": 0}},
  "y": {"field": "y", "type": "quantitative", "axis": {"orient": "right", "values": [-4000, -3000, -2000, -1000, 0, 1000, 2000, 3000, 4000, 5000, 6000], "labels": false, "grid": false, "domain": false, "title": null, "minExtent": 0}},
  "text": {"field": "t"}
 }},
{"data": {"values": [{"x": 2, "y": -4000, "t": "x 10⁴"}]}, "mark": {"type": "text", "font": "Liberation Sans", "fontWeight": "bold", "fontSize": 10, "color": "black", "align": "right", "baseline": "alphabetic", "dx": 1, "dy": 40},
 "encoding": {
  "x": {"field": "x", "type": "quantitative", "axis": null},
  "y": {"field": "y", "type": "quantitative", "axis": null},
  "text": {"field": "t"}
 }}
]
},
{
"width": 453, "height": 373,
"resolve": {"axis": {"x": "independent", "y": "independent"}},
"layer": [
{"data": {"name": "bc"}, "mark": {"type": "point", "filled": true, "opacity": 1, "size": 16},
 "encoding": {
  "x": {"field": "x", "type": "quantitative", "scale": {"domain": [-100, 150], "nice": false}, "axis": {"values": [-100, -50, 0, 50, 100, 150], "labelExpr": "'' + datum.value", "title": "Velocity radial error [m/s]", "titleFontSize": 22, "titlePadding": 3, "labelPadding": 8}},
  "y": {"field": "y", "type": "quantitative", "scale": {"domain": [-15, 2], "nice": false}, "axis": {"values": [-14, -12, -10, -8, -6, -4, -2, 0, 2], "labelExpr": "'' + datum.value", "title": "Velocity transversal error [m/s]", "titleFontSize": 23, "titlePadding": 4, "labelPadding": 8}},
  "color": {"datum": "Corridor", "scale": {"domain": ["Corridor", "Trajectory"], "range": ["#ffff00", "#000000"]}, "legend": {"title": null, "encode": {"symbols": {"update": {"size": {"signal": "datum.value === 'Corridor' ? 16 : 64"}, "x": {"value": 30}}}}}},
  "shape": {"datum": "Corridor", "scale": {"domain": ["Corridor", "Trajectory"], "range": ["circle", "M-1,-0.13L1,-0.13L1,0.13L-1,0.13Z M-0.13,-1L0.13,-1L0.13,1L-0.13,1Z M-0.8,-0.62L-0.62,-0.8L0.8,0.62L0.62,0.8Z M-0.8,0.62L0.62,-0.8L0.8,-0.62L-0.62,0.8Z"]}, "legend": {"title": null, "encode": {"symbols": {"update": {"size": {"signal": "datum.value === 'Corridor' ? 16 : 64"}, "x": {"value": 30}}}}}}
 }},
{"data": {"name": "bt"}, "mark": {"type": "point", "filled": true, "opacity": 1, "size": 64},
 "encoding": {
  "x": {"field": "x", "type": "quantitative", "axis": null},
  "y": {"field": "y", "type": "quantitative", "axis": null},
  "color": {"datum": "Trajectory", "scale": {"domain": ["Corridor", "Trajectory"], "range": ["#ffff00", "#000000"]}},
  "shape": {"datum": "Trajectory", "scale": {"domain": ["Corridor", "Trajectory"], "range": ["circle", "M-1,-0.13L1,-0.13L1,0.13L-1,0.13Z M-0.13,-1L0.13,-1L0.13,1L-0.13,1Z M-0.8,-0.62L-0.62,-0.8L0.8,0.62L0.62,0.8Z M-0.8,0.62L0.62,-0.8L0.8,-0.62L-0.62,0.8Z"]}}
 }},
{"data": {"values": [{"x": -78.9, "y": 0.88, "t": "(b)"}]}, "mark": {"type": "text", "font": "Liberation Serif", "fontSize": 22, "color": "black", "baseline": "middle"},
 "encoding": {
  "x": {"field": "x", "type": "quantitative", "axis": {"orient": "top", "values": [-100, -50, 0, 50, 100, 150], "labels": false, "grid": false, "domain": false, "title": null, "minExtent": 0}},
  "y": {"field": "y", "type": "quantitative", "axis": {"orient": "right", "values": [-14, -12, -10, -8, -6, -4, -2, 0, 2], "labels": false, "grid": false, "domain": false, "title": null, "minExtent": 0}},
  "text": {"field": "t"}
 }}
]
}
]
}
